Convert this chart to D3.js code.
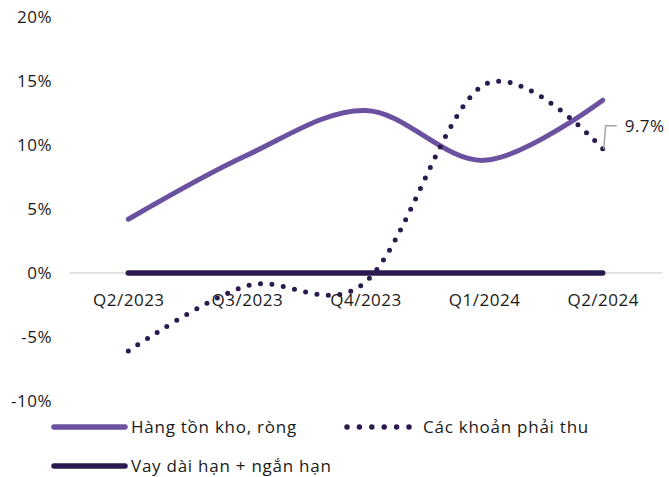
<!DOCTYPE html>
<html>
<head>
<meta charset="utf-8">
<script src="https://cdn.jsdelivr.net/npm/d3@7"></script>
<style>
  html, body { margin: 0; padding: 0; background: #fff; }
  svg { display: block; }
  text { font-family: "Open Sans", "Noto Sans", sans-serif; fill: #1a1a1a; }
  .axis-label { letter-spacing: 0.5px; }
  .legend-label { letter-spacing: 0.75px; }
</style>
</head>
<body>
<svg id="chart" width="669" height="477"></svg>
<script>
// Quarter labels on the x axis
const quarters = ["Q2/2023", "Q3/2023", "Q4/2023", "Q1/2024", "Q2/2024"];
// Year-on-year change, %
const inventoryNet = [4.2, 9.2, 12.7, 8.8, 13.5];      // Hàng tồn kho, ròng
const receivables = [-6.1, -1.0, -0.7, 14.7, 9.7];     // Các khoản phải thu
const borrowings = [0, 0, 0, 0, 0];                    // Vay dài hạn + ngắn hạn
const yTicks = [-10, -5, 0, 5, 10, 15, 20];

const seriesNames = ["Hàng tồn kho, ròng", "Các khoản phải thu", "Vay dài hạn + ngắn hạn"];
const colors = { inventory: "#6b52a0", receivables: "#2a1a4e", borrowings: "#2a1a4e" };

const svg = d3.select("#chart");
const margin = { left: 69, right: 7 };
const fontSize = "17px";

const x = d3.scalePoint()
  .domain(quarters)
  .range([margin.left, 669 - margin.right])
  .padding(0.5);

const y = d3.scaleLinear()
  .domain([-10, 20])
  .range([401, 17]);

// Zero reference line
svg.append("line")
  .attr("x1", margin.left).attr("x2", 669 - margin.right)
  .attr("y1", y(0)).attr("y2", y(0))
  .attr("stroke", "#d9d9d9").attr("stroke-width", 1.5);

// Y axis labels
const yAxis = d3.axisLeft(y).tickValues(yTicks).tickFormat(d => d + "%").tickSize(0).tickPadding(0);
const yg = svg.append("g").attr("transform", "translate(52,0)").call(yAxis)
  .attr("font-family", null).attr("font-size", null);
yg.select(".domain").remove();
yg.selectAll("text").attr("class", "axis-label").style("font-size", fontSize).attr("fill", "#1a1a1a").attr("dy", "0.35em");

// X axis labels
const xAxis = d3.axisBottom(x).tickSize(0).tickPadding(0);
const xg = svg.append("g").attr("transform", `translate(0,${y(0) + 27})`).call(xAxis)
  .attr("font-family", null).attr("font-size", null);
xg.select(".domain").remove();
xg.selectAll("text").attr("class", "axis-label").style("font-size", fontSize).attr("fill", "#1a1a1a").attr("dy", "0.35em");

const line = d3.line()
  .x((d, i) => x(quarters[i]))
  .y(d => y(d))
  .curve(d3.curveCardinal.tension(0));

// Borrowings (flat)
svg.append("path")
  .datum(borrowings)
  .attr("d", line)
  .attr("fill", "none")
  .attr("stroke", colors.borrowings)
  .attr("stroke-width", 5.5)
  .attr("stroke-linecap", "round");

// Inventory
svg.append("path")
  .datum(inventoryNet)
  .attr("d", line)
  .attr("fill", "none")
  .attr("stroke", colors.inventory)
  .attr("stroke-width", 5)
  .attr("stroke-linecap", "round");

// Receivables (dotted)
svg.append("path")
  .datum(receivables)
  .attr("d", line)
  .attr("fill", "none")
  .attr("stroke", colors.receivables)
  .attr("stroke-width", 5)
  .attr("stroke-linecap", "round")
  .attr("stroke-dasharray", "0 11.5");

// Data label for the last receivables point
const lastIdx = receivables.length - 1;
const lx = x(quarters[lastIdx]), ly = y(receivables[lastIdx]);
svg.append("path")
  .attr("d", `M${lx + 1},${ly} L${lx + 3},${ly - 23} L${lx + 14},${ly - 23}`)
  .attr("fill", "none")
  .attr("stroke", "#a6a6a6")
  .attr("stroke-width", 1.5);
svg.append("text")
  .attr("class", "axis-label")
  .attr("x", lx + 22).attr("y", ly - 23)
  .attr("dy", "0.35em")
  .style("font-size", fontSize)
  .text(receivables[lastIdx].toFixed(1) + "%");

// Legend
const legend = svg.append("g");
const items = [
  { name: seriesNames[0], color: colors.inventory, dash: null, x1: 54, x2: 125, tx: 131, y: 427 },
  { name: seriesNames[1], color: colors.receivables, dash: "0 12.4", x1: 347, x2: 410, tx: 423, y: 427 },
  { name: seriesNames[2], color: colors.borrowings, dash: null, x1: 54, x2: 125, tx: 131, y: 466 }
];
items.forEach(it => {
  const g = legend.append("g");
  g.append("line")
    .attr("x1", it.x1).attr("x2", it.x2)
    .attr("y1", it.y).attr("y2", it.y)
    .attr("stroke", it.color)
    .attr("stroke-width", 5.5)
    .attr("stroke-linecap", "round")
    .attr("stroke-dasharray", it.dash);
  g.append("text")
    .attr("class", "legend-label")
    .attr("x", it.tx).attr("y", it.y)
    .attr("dy", "0.35em")
    .style("font-size", fontSize)
    .text(it.name);
});
</script>
</body>
</html>
